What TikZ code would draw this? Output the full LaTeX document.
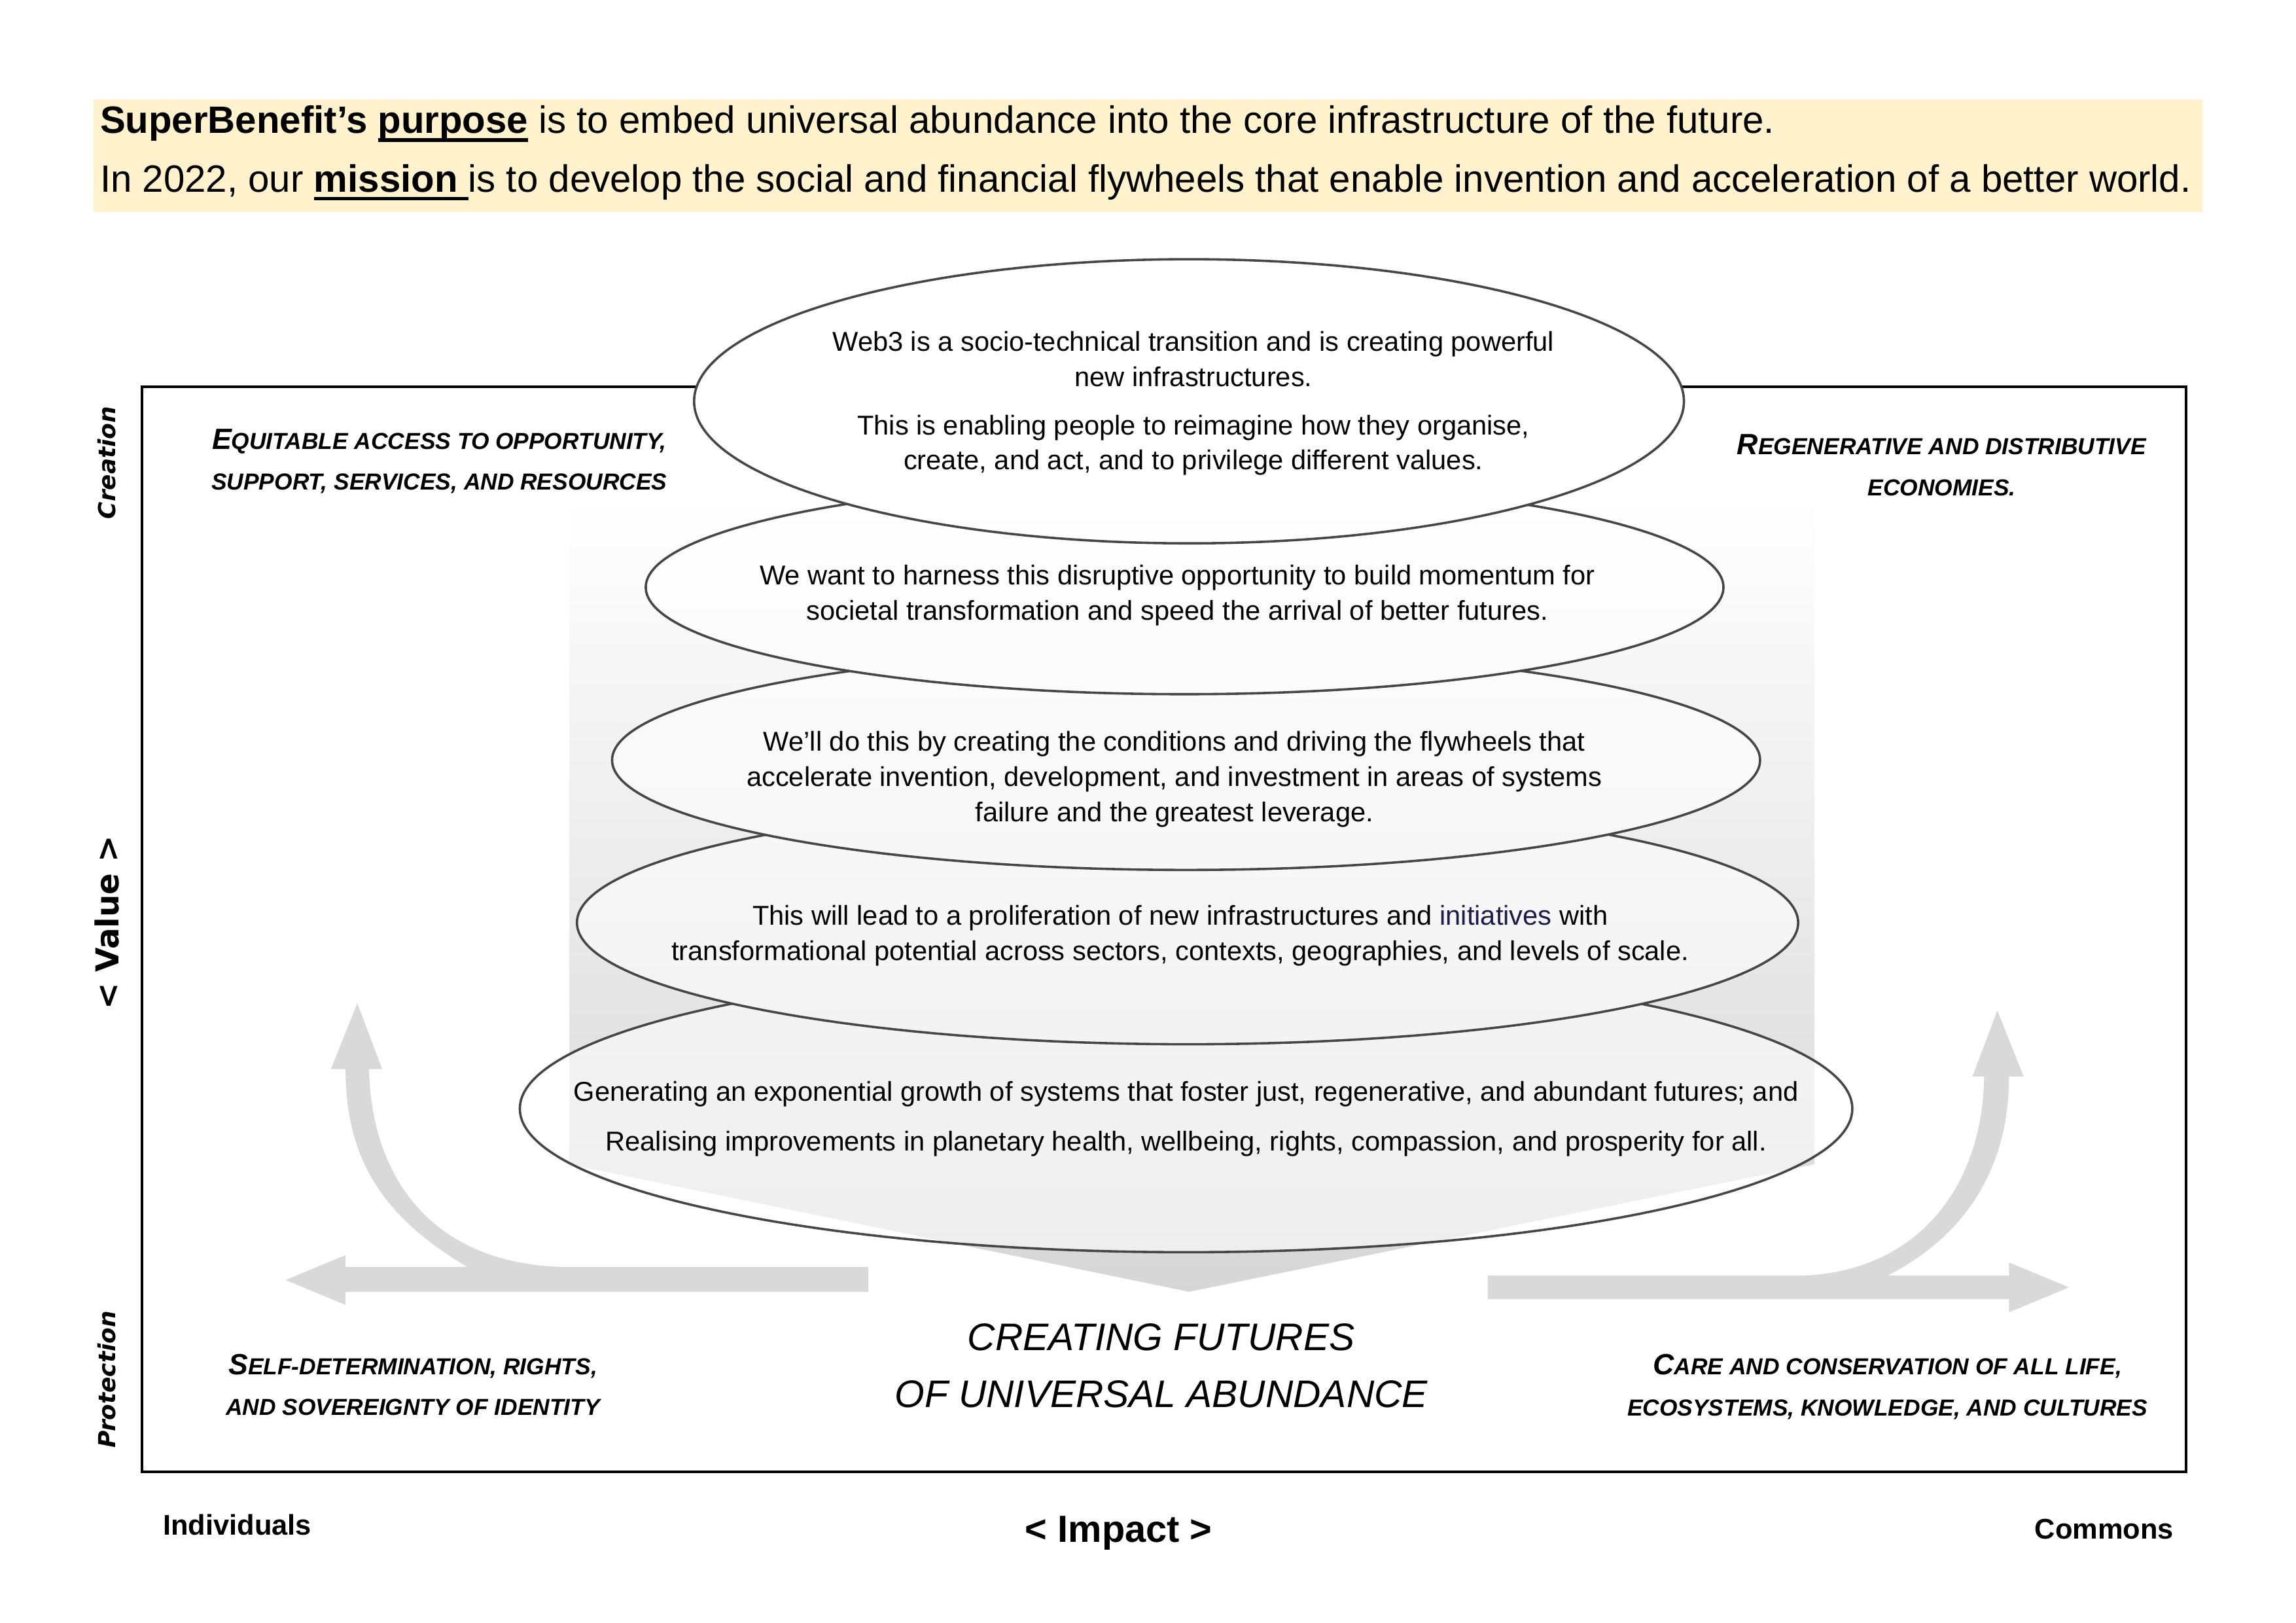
\documentclass[tikz,border=0pt]{standalone}
\usepackage{fontspec}
\setmainfont{Liberation Sans}
\newfontfamily\dejavu{DejaVu Sans}
\definecolor{hdr}{HTML}{FFF2CC}
\definecolor{arr}{HTML}{D9D9D9}
\definecolor{eline}{HTML}{464646}
\definecolor{navyw}{HTML}{1C1C4A}
\newcommand\hul[1]{\setbox0\hbox{#1}\rlap{\rule[-2.9pt]{\wd0}{1.2pt}}\box0\relax}
\newcommand\capfirst[1]{{\fontsize{10}{14}\selectfont #1}}
\newcommand\elayer[4]{%
  \fill[white] (#1,#2) ellipse [x radius=#3, y radius=#4];
  \begin{scope}
    \clip (#1,#2) ellipse [x radius=#3, y radius=#4];
    \shade[top color=white, bottom color=black!7] (389,340) -- (1239,340) -- (1239,795) -- (812,882) -- (389,795) -- cycle;
  \end{scope}
  \draw[eline, line width=0.8pt] (#1,#2) ellipse [x radius=#3, y radius=#4];
}
\tikzset{
  etext/.style={align=center, inner sep=0pt, font=\fontsize{9.3}{12}\selectfont},
  corner/.style={align=center, inner sep=0pt, font=\bfseries\itshape\fontsize{7.9}{14}\selectfont},
  sidelab/.style={rotate=90, inner sep=0pt, font=\dejavu\bfseries\itshape\fontsize{8}{10}\selectfont},
  botlab/.style={inner sep=0pt, font=\bfseries\fontsize{9.7}{12}\selectfont},
  hdrtext/.style={anchor=base west, inner sep=0pt, font=\fontsize{13}{15}\selectfont},
}
\begin{document}
\begin{tikzpicture}[x=0.5pt, y=-0.5pt]
\useasboundingbox (0,0) rectangle (1568,1108);
\fill[white] (0,0) rectangle (1568,1108);

% header
\fill[hdr] (64,68) rectangle (1504,145);
\node[hdrtext] (h1) at (68,91) {\textbf{SuperBenefit’s} \hul{\textbf{purpose}} is to embed universal abundance into the core infrastructure of the future.};
\node[hdrtext] (h2) at (68,131) {In 2022, our \hul{\textbf{mission }}is to develop the social and financial flywheels that enable invention and acceleration of a better world.};

% frame
\draw[black, line width=0.8pt] (97,264) rectangle (1493,1005);

% side labels
\node[sidelab] (creation) at (73,316) {Creation};
\node[rotate=90, inner sep=0pt, font=\dejavu\bfseries\fontsize{10.8}{12}\selectfont] (value) at (73,630) {< Value >};
\node[sidelab] (protection) at (73,942) {Protection};

% bottom labels
\node[botlab] (indiv) at (162,1041) {Individuals};
\node[inner sep=0pt, font=\bfseries\fontsize{12.9}{14}\selectfont] (impact) at (764,1047) {< Impact >};
\node[botlab] (commons) at (1437,1044) {Commons};

% corner labels
\node[corner] (tl) at (300,315) {\capfirst{E}QUITABLE ACCESS TO OPPORTUNITY,\\SUPPORT, SERVICES, AND RESOURCES};
\node[corner] (tr) at (1326,317.5) {\capfirst{R}EGENERATIVE AND DISTRIBUTIVE\\ECONOMIES.};
\node[corner] (bl) at (282,945.5) {\capfirst{S}ELF-DETERMINATION, RIGHTS,\\AND SOVEREIGNTY OF IDENTITY};
\node[corner] (br) at (1289,947) {\capfirst{C}ARE AND CONSERVATION OF ALL LIFE,\\ECOSYSTEMS, KNOWLEDGE, AND CULTURES};

% arrows
\fill[arr] (593,865) -- (593,882) -- (236,882) -- (236,891) -- (195,874) -- (236,857) -- (236,865) -- (319,865)
  .. controls (260,830) and (236,790) .. (236,730) -- (226,730) -- (244,685) -- (261,730) -- (252,730)
  .. controls (254,810) and (300,862) .. (382,865) -- cycle;
\fill[arr] (1016,871) -- (1231,871) .. controls (1310,868) and (1354,810) .. (1355,735) -- (1347,735)
  -- (1364,690) -- (1382,735) -- (1372,735) .. controls (1372,800) and (1340,845) .. (1289,871)
  -- (1372,871) -- (1372,862) -- (1413,879) -- (1372,896) -- (1372,887) -- (1016,887) -- cycle;

% band
\shade[top color=white, bottom color=black!16] (389,340) -- (1239,340) -- (1239,795) -- (812,882) -- (389,795) -- cycle;

% ellipses bottom to top
\elayer{810}{757}{455}{98}
\elayer{811}{630}{417}{83}
\elayer{810}{519}{392}{75}
\elayer{809}{401}{368}{73}
\elayer{812}{274}{338}{97}

% ellipse texts
\node[etext] (t1a) at (815,245) {Web3 is a socio-technical transition and is creating powerful\\new infrastructures.};
\node[etext] (t1b) at (815,304) {This is enabling people to reimagine how they organise,\\create, and act, and to privilege different values.};
\node[etext] (t2) at (804,406.5) {We want to harness this disruptive opportunity to build momentum for\\societal transformation and speed the arrival of better futures.};
\node[etext] (t3) at (802,532) {We’ll do this by creating the conditions and driving the flywheels that\\accelerate invention, development, and investment in areas of systems\\failure and the greatest leverage.};
\node[etext] (t4) at (806,639) {This will lead to a proliferation of new infrastructures and \textcolor{navyw}{initiatives} with\\transformational potential across sectors, contexts, geographies, and levels of scale.};
\node[etext, font=\fontsize{9.3}{17}\selectfont] (t5) at (810,764) {Generating an exponential growth of systems that foster just, regenerative, and abundant futures; and\\Realising improvements in planetary health, wellbeing, rights, compassion, and prosperity for all.};

% center text
\node[align=center, inner sep=0pt, font=\itshape\fontsize{13.1}{19.5}\selectfont] (centre) at (793,932.5) {CREATING FUTURES\\OF UNIVERSAL ABUNDANCE};
\end{tikzpicture}
\end{document}
